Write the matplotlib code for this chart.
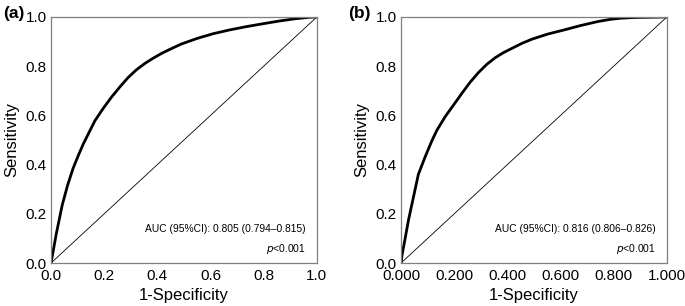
import matplotlib
matplotlib.use("Agg")
import matplotlib.pyplot as plt

plt.rcParams["font.family"] = ["Liberation Sans", "DejaVu Sans"]

# ROC curve (a)
fpr_a = [0.0, 0.005, 0.02, 0.042, 0.062, 0.083, 0.103, 0.121, 0.139, 0.165, 0.196,
         0.228, 0.26, 0.291, 0.322, 0.353, 0.385, 0.416, 0.45, 0.49, 0.55, 0.61,
         0.67, 0.736, 0.80, 0.861, 0.92, 0.974, 1.0]
tpr_a = [0.0, 0.03, 0.12, 0.235, 0.315, 0.385, 0.438, 0.483, 0.522, 0.578, 0.628,
         0.675, 0.717, 0.755, 0.786, 0.811, 0.833, 0.852, 0.87, 0.89, 0.913, 0.932,
         0.947, 0.961, 0.973, 0.984, 0.993, 0.999, 1.0]

# ROC curve (b)
fpr_b = [0.0, 0.004, 0.012, 0.028, 0.047, 0.065, 0.09, 0.116, 0.135, 0.166, 0.198,
         0.229, 0.26, 0.292, 0.323, 0.355, 0.385, 0.418, 0.455, 0.493, 0.55, 0.612,
         0.675, 0.738, 0.785, 0.826, 0.88, 0.94, 0.99, 1.0]
tpr_b = [0.0, 0.035, 0.08, 0.175, 0.27, 0.36, 0.43, 0.497, 0.54, 0.595, 0.643,
         0.69, 0.735, 0.775, 0.808, 0.835, 0.855, 0.873, 0.893, 0.91, 0.93, 0.947,
         0.965, 0.981, 0.99, 0.995, 0.998, 0.999, 1.0, 1.0]

ticks = [0.0, 0.2, 0.4, 0.6, 0.8, 1.0]
xlabels_a = ["0.0", "0.2", "0.4", "0.6", "0.8", "1.0"]
xlabels_b = ["0.000", "0.200", "0.400", "0.600", "0.800", "1.000"]
ylabels = ["0.0", "0.2", "0.4", "0.6", "0.8", "1.0"]

panels = [
    ("(a)", fpr_a, tpr_a, xlabels_a, "AUC (95%CI): 0.805 (0.794\u20130.815)", 0.0745, 0.0044),
    ("(b)", fpr_b, tpr_b, xlabels_b, "AUC (95%CI): 0.816 (0.806\u20130.826)", 0.5855, 0.508),
]

fig = plt.figure(figsize=(6.85, 3.06), dpi=100)

for tag, fpr, tpr, xlab, auc, left, tag_x in panels:
    ax = fig.add_axes([left, 0.1405, 0.388, 0.804])
    ax.plot([0, 1], [0, 1], color="black", lw=0.6)
    ax.plot(fpr, tpr, color="black", lw=2.0, solid_capstyle="round",
            solid_joinstyle="round")
    ax.set_xlim(0, 1)
    ax.set_ylim(0, 1)
    ax.set_xticks(ticks)
    ax.set_xticklabels(xlab)
    ax.set_yticks(ticks)
    ax.set_yticklabels(ylabels)
    ax.tick_params(length=0, labelsize=11)
    ax.tick_params(axis="x", pad=4)
    ax.tick_params(axis="y", pad=3)
    for s in ax.spines.values():
        s.set_color("#7f7f7f")
        s.set_linewidth(0.9)
    ax.set_xlabel("1-Specificity", fontsize=12, labelpad=4)
    ax.set_ylabel("Sensitivity", fontsize=12, labelpad=5)
    ax.text(0.959, 0.138, auc, transform=ax.transAxes, ha="right", va="center", fontsize=7.4)
    ax.text(0.959, 0.057, "$\\it{p}$<0.001", transform=ax.transAxes, ha="right", va="center",
            fontsize=7.4)
    fig.text(tag_x, 0.9575, tag, ha="left", va="center", fontsize=12.5, fontweight="bold")

fig.savefig("out.png", dpi=100)
